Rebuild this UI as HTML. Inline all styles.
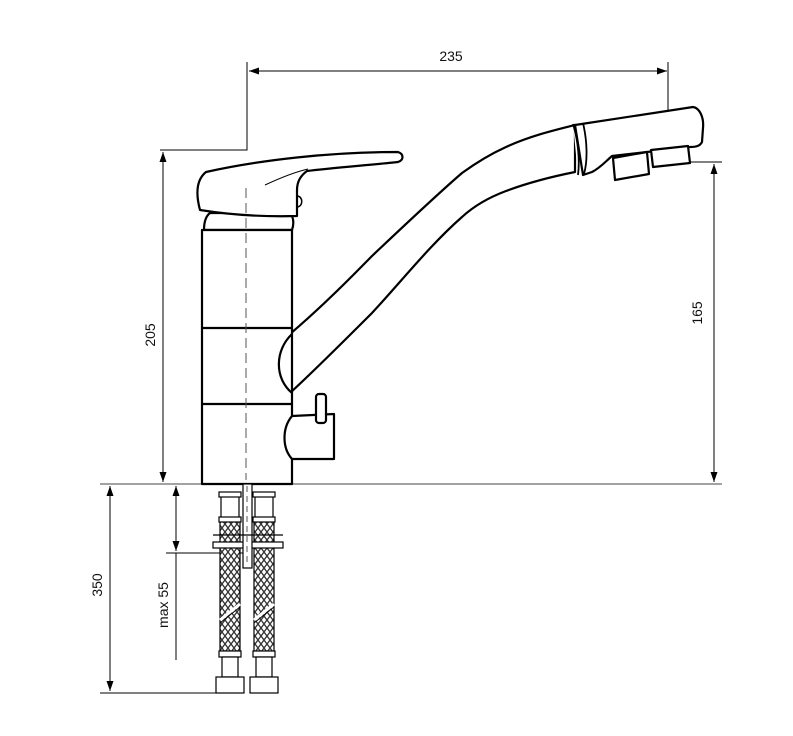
<!DOCTYPE html>
<html><head><meta charset="utf-8"><style>
html,body{margin:0;padding:0;background:#fff;}
svg{display:block;}
text{font-family:"Liberation Sans",sans-serif;font-size:14px;fill:#111;}
</style></head><body>
<svg width="793" height="736" viewBox="0 0 793 736" xmlns="http://www.w3.org/2000/svg">
<defs>
<marker id="a" viewBox="0 0 10 10" refX="10" refY="5" markerWidth="10" markerHeight="10" orient="auto-start-reverse" markerUnits="userSpaceOnUse">
<path d="M0,1.5 L10,5 L0,8.5 z" fill="#000"/></marker>
<pattern id="br" width="6" height="8" patternUnits="userSpaceOnUse">
<rect width="6" height="8" fill="#fff"/>
<path d="M0,0 L3,4 L6,0 M0,8 L3,4 L6,8" stroke="#333" stroke-width="1.3" fill="none"/>
</pattern>
</defs>
<g stroke="#000" stroke-width="1" fill="none">
<!-- dimension lines -->
<polyline points="247,62 247,150 160,150"/>
<line x1="668" y1="62" x2="668" y2="150"/>
<line x1="249" y1="71" x2="667" y2="71" marker-start="url(#a)" marker-end="url(#a)"/>
<line x1="163" y1="152" x2="163" y2="482" marker-start="url(#a)" marker-end="url(#a)"/>
<line x1="690" y1="162" x2="722" y2="162"/>
<line x1="714" y1="164" x2="714" y2="482" marker-start="url(#a)" marker-end="url(#a)"/>
<line x1="100" y1="484" x2="722" y2="484" stroke="#444"/>
<line x1="110" y1="486" x2="110" y2="691" marker-start="url(#a)" marker-end="url(#a)"/>
<line x1="100" y1="693" x2="240" y2="693"/>
<line x1="176" y1="486" x2="176" y2="551" marker-start="url(#a)" marker-end="url(#a)"/>
<line x1="166" y1="553" x2="245" y2="553"/>
<line x1="176" y1="553" x2="176" y2="660"/>
</g>
<text x="451" y="61" text-anchor="middle">235</text>
<text transform="translate(155,335) rotate(-90)" text-anchor="middle">205</text>
<text transform="translate(702,313) rotate(-90)" text-anchor="middle">165</text>
<text transform="translate(102,585) rotate(-90)" text-anchor="middle">350</text>
<text transform="translate(168,605) rotate(-90)" text-anchor="middle">max 55</text>

<g stroke="#000" stroke-width="2.2" fill="#fff" stroke-linejoin="round">
<!-- spout -->
<path d="M290,334 C330,300 360,268 372,256 C410,220 440,192 462,173 C480,160 495,152 506,147 C530,136 555,130 575,125 L575,172 C555,176 530,182 506,191 C490,197 475,205 462,217 C430,245 400,283 372,313 C345,340 315,370 290,393 C272,375 272,350 290,334 z"/>
<!-- spout head -->
<path d="M575,125 L693,107 C700,108 704,118 703,128 L702,142 C700,146 696,147 690,147 L612,156 C605,162 600,168 592,172 L583,175 z"/>
<path d="M573,124 C578,140 580,160 578,175" stroke-width="1.8"/>
<path d="M583,123 C587,140 588,160 584,174" stroke-width="1.8"/>
<path d="M613,158 L647,152 L649,174 L615,180 z"/>
<path d="M651,150 L688,146 L690,163 L653,167 z"/>
<!-- body -->
<path d="M204,230 C204,222 206,216 210,213 L290,213 C294,218 294,224 292,230 z"/>
<rect x="202" y="230" width="90" height="254"/>
<line x1="202" y1="328" x2="292" y2="328"/>
<line x1="202" y1="404" x2="292" y2="404"/>
<!-- spout base redraw over body edge -->
<path d="M292,334 C275,350 274,378 292,393" fill="none"/>
<!-- diverter -->
<path d="M292,416 L334,414 L334,459 L292,459 C282,448 282,428 292,416 z"/>
<rect x="316" y="394" width="10" height="29" rx="3"/>
<!-- handle -->
<path d="M200,210 C196,195 196,180 206,172 C260,160 330,152 398,152 C404,154 404,160 398,162 C370,165 330,168 307,171 C300,176 297,182 297,190 L297,216 C260,217 225,214 200,210 z"/>
<path d="M265,185 C280,178 295,172 308,169" stroke-width="1" fill="none"/>
<path d="M298,196 C303,198 303,205 298,207" stroke-width="1.5" fill="none"/>
</g>
<!-- center line -->
<line x1="246" y1="188" x2="246" y2="480" stroke="#555" stroke-width="1" stroke-dasharray="10,5"/>
<!-- hoses -->
<g stroke="#000" stroke-width="1.2">
<rect x="220" y="520" width="20" height="134" fill="url(#br)"/>
<rect x="254" y="520" width="20" height="134" fill="url(#br)"/>
<g fill="#fff">
<rect x="221" y="494" width="18" height="26"/>
<rect x="255" y="494" width="18" height="26"/>
<rect x="219" y="492" width="22" height="5"/>
<rect x="253" y="492" width="22" height="5"/>
<rect x="219" y="517" width="22" height="5"/>
<rect x="253" y="517" width="22" height="5"/>
<rect x="213" y="542" width="70" height="6"/>
<rect x="243" y="484" width="9" height="84"/>
<rect x="219" y="651" width="22" height="6"/>
<rect x="253" y="651" width="22" height="6"/>
<rect x="222" y="657" width="16" height="20"/>
<rect x="256" y="657" width="16" height="20"/>
<rect x="216" y="677" width="28" height="16"/>
<rect x="250" y="677" width="28" height="16"/>
</g>
<line x1="213" y1="535" x2="283" y2="535"/>
<path d="M220,620 L240,604 M254,620 L274,604" stroke="#fff" stroke-width="3"/>
<path d="M220,623 L240,607 M254,623 L274,607" stroke-width="1"/>
</g>
<line x1="247" y1="486" x2="247" y2="566" stroke="#555" stroke-dasharray="6,4"/>
</svg>
</body></html>
